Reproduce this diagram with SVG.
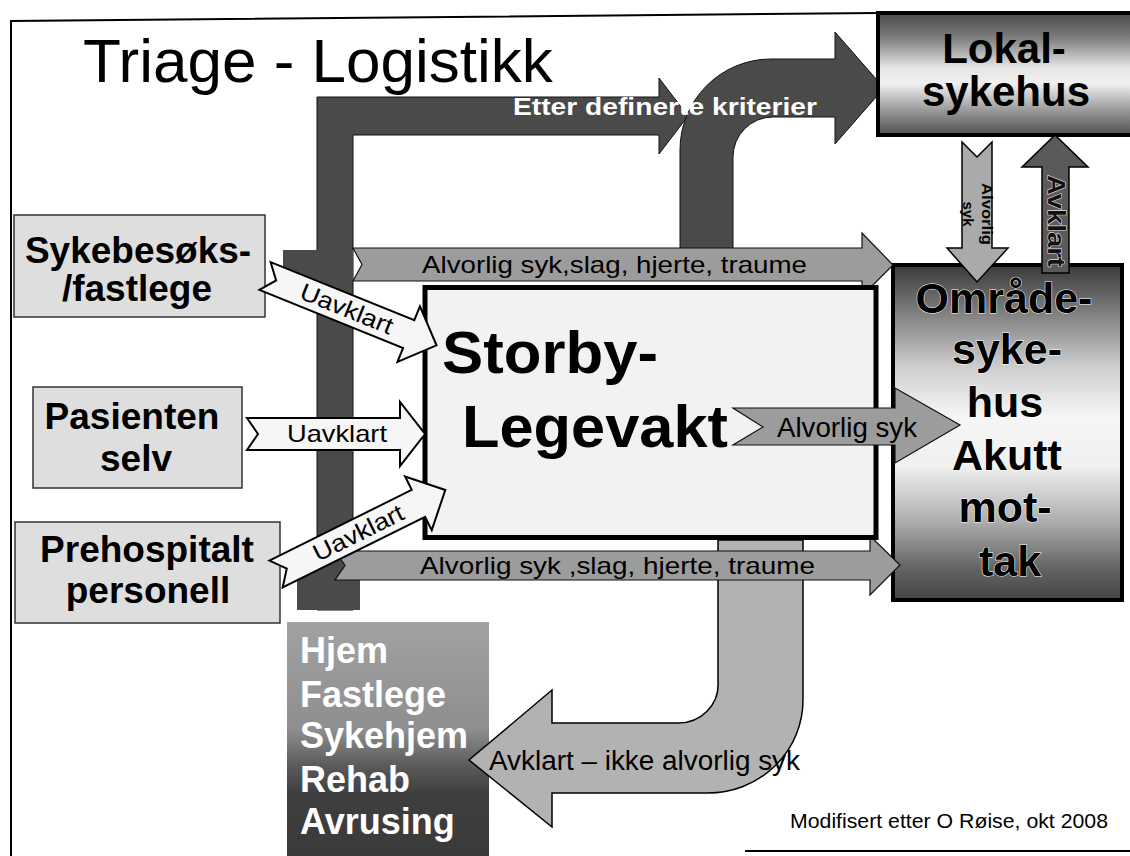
<svg xmlns="http://www.w3.org/2000/svg" width="1130" height="856" viewBox="0 0 1130 856">
<defs>
<style>
.b{font-family:"Liberation Sans",Arial,sans-serif;font-weight:bold}
.r{font-family:"Liberation Sans",Arial,sans-serif}
.box{fill:#dedede;stroke:#333;stroke-width:1.5}
.gray{fill:#9c9c9c;stroke:#111;stroke-width:1.2}
.dark{fill:#4a4a4a;stroke:#111;stroke-width:1}
.white{fill:#f6f6f6;stroke:#000;stroke-width:2}
</style>
<linearGradient id="lokalG" x1="0" y1="0" x2="0" y2="1">
<stop offset="0" stop-color="#4a4a4a"/><stop offset="0.2" stop-color="#7c7c7c"/><stop offset="0.45" stop-color="#e6e6e6"/><stop offset="0.58" stop-color="#f0f0f0"/><stop offset="0.78" stop-color="#a0a0a0"/><stop offset="1" stop-color="#505050"/>
</linearGradient>
<linearGradient id="omrG" x1="0" y1="0" x2="0" y2="1">
<stop offset="0" stop-color="#3a3a3a"/><stop offset="0.1" stop-color="#6a6a6a"/><stop offset="0.3" stop-color="#cccccc"/><stop offset="0.45" stop-color="#f6f6f6"/><stop offset="0.6" stop-color="#f0f0f0"/><stop offset="0.76" stop-color="#b0b0b0"/><stop offset="0.9" stop-color="#666666"/><stop offset="1" stop-color="#444444"/>
</linearGradient>
<linearGradient id="hjemG" x1="0" y1="0" x2="0" y2="1">
<stop offset="0" stop-color="#a2a2a2"/><stop offset="0.45" stop-color="#8e8e8e"/><stop offset="0.6" stop-color="#5a5a5a"/><stop offset="0.72" stop-color="#3e3e3e"/><stop offset="1" stop-color="#3a3a3a"/>
</linearGradient>
</defs>
<rect width="1130" height="856" fill="#ffffff"/>
<g id="frame" fill="none" stroke="#000" stroke-width="2">
<polyline points="11,856 11,21 878,13"/>
<line x1="745" y1="851" x2="1130" y2="851"/>
</g>
<g id="title"><text class="r" x="83" y="82" font-size="62">Triage - Logistikk</text></g>

<g id="connectors">
<g id="etter-arrow">
<path class="dark" d="M317,97 L659,97 L659,78 L688,116 L659,154 L659,135 L353,135 L353,610 L317,610 Z"/>
<rect x="283" y="250" width="70" height="33" fill="#4a4a4a"/>
<rect x="297" y="550" width="63" height="60" fill="#4a4a4a"/>
</g>
<path id="curved-arrow" class="dark" d="M680,255 L680,150 A91,91 0 0 1 771,59 L835,59 L835,32 L884,88 L835,144 L835,117 L773,117 A40,40 0 0 0 733,157 L733,255 Z"/>
<text class="b" x="513" y="115" font-size="24" fill="#ffffff" textLength="304" lengthAdjust="spacingAndGlyphs">Etter definerte kriterier</text>
</g>

<g id="lokal">
<rect x="878" y="13" width="262" height="122" fill="url(#lokalG)" stroke="#000" stroke-width="4"/>
<text class="b" x="1004" y="63" font-size="42" text-anchor="middle">Lokal-</text>
<text class="b" x="1006" y="106" font-size="42" text-anchor="middle">sykehus</text>
</g>

<g id="omrade">
<rect x="893" y="265" width="229" height="335" fill="url(#omrG)" stroke="#000" stroke-width="4"/>
<g class="b" font-size="43" text-anchor="middle" stroke="#ffffff" stroke-width="1" paint-order="stroke">
<text x="1004" y="313">Område-</text>
<text x="1007" y="364">syke-</text>
<text x="1005" y="417">hus</text>
<text x="1007" y="470">Akutt</text>
<text x="1005" y="522">mot-</text>
<text x="1010" y="576">tak</text>
</g>
</g>

<g id="vertical-arrows">
<path d="M962,142 L977,157 L992,142 L992,248 L1008,248 L977,282 L947,248 L962,248 Z" fill="#aaaaaa" stroke="#000" stroke-width="1.5"/>
<g transform="translate(977,214) rotate(90)" class="b" font-size="15" text-anchor="middle">
<text x="0" y="-5" textLength="62" lengthAdjust="spacingAndGlyphs">Alvorlig</text>
<text x="0" y="14">syk</text>
</g>
<path d="M1042,273 L1042,167 L1022,167 L1055,135 L1088,167 L1069,167 L1069,273 Z" fill="#5a5a5a" stroke="#000" stroke-width="1.5"/>
<text class="b" transform="translate(1056,221) rotate(90)" x="0" y="8" font-size="24" text-anchor="middle" textLength="92" lengthAdjust="spacingAndGlyphs" fill="#111" stroke="#dddddd" stroke-width="1.2" paint-order="stroke">Avklart</text>
</g>

<g id="alvorlig-top">
<path class="gray" d="M353,248 L862,248 L862,233 L893,265 L862,296 L862,281 L353,281 L362,264.5 Z"/>
<text class="r" x="422" y="273" font-size="24" textLength="385" lengthAdjust="spacingAndGlyphs">Alvorlig syk,slag, hjerte, traume</text>
</g>

<g id="hjem">
<rect x="287" y="622" width="202" height="240" fill="url(#hjemG)"/>
<g class="b" font-size="36" fill="#ffffff">
<text x="300" y="663">Hjem</text>
<text x="300" y="707">Fastlege</text>
<text x="300" y="748">Sykehjem</text>
<text x="300" y="792">Rehab</text>
<text x="300" y="834">Avrusing</text>
</g>
</g>

<g id="uturn-arrow">
<path d="M718,540 L718,683 A40,38 0 0 1 678,723 L552,723 L552,690 L469,760 L552,827 L552,793 L708,793 A95,93 0 0 0 803,700 L803,540 Z" fill="#b2b2b2" stroke="#000" stroke-width="1.5"/>
<text class="r" x="489" y="770" font-size="27" textLength="311" lengthAdjust="spacingAndGlyphs">Avklart – ikke alvorlig syk</text>
</g>

<g id="alvorlig-bottom">
<path class="gray" d="M335,551 L870,551 L870,536 L900,565 L870,595 L870,580 L335,580 L345,565.5 Z"/>
<text class="r" x="420" y="574" font-size="24" textLength="395" lengthAdjust="spacingAndGlyphs">Alvorlig syk ,slag, hjerte, traume</text>
</g>

<g id="storby">
<rect x="425" y="287.5" width="451" height="250" fill="#f2f2f2" stroke="#000" stroke-width="5"/>
<text class="b" x="442" y="373" font-size="60" textLength="216" lengthAdjust="spacingAndGlyphs">Storby-</text>
<text class="b" x="462" y="447" font-size="60" textLength="266" lengthAdjust="spacingAndGlyphs">Legevakt</text>
</g>

<g id="alvorlig-mid">
<path class="gray" d="M733,408 L895,408 L895,388 L960,425 L895,463 L895,445 L733,445 L763,427 Z"/>
<text class="r" x="777" y="437" font-size="27" textLength="140" lengthAdjust="spacingAndGlyphs">Alvorlig syk</text>
</g>

<g id="sykebesoks">
<rect class="box" x="14" y="215" width="251" height="102"/>
<text class="b" x="138" y="263" font-size="37" text-anchor="middle">Sykebesøks-</text>
<text class="b" x="137" y="301" font-size="37" text-anchor="middle">/fastlege</text>
</g>
<g id="pasienten">
<rect class="box" x="33" y="387" width="209" height="101"/>
<text class="b" x="132" y="429" font-size="37" text-anchor="middle">Pasienten</text>
<text class="b" x="136" y="471" font-size="37" text-anchor="middle">selv</text>
</g>
<g id="prehospitalt">
<rect class="box" x="15" y="522" width="265" height="101"/>
<text class="b" x="147" y="562" font-size="37" text-anchor="middle">Prehospitalt</text>
<text class="b" x="148" y="603" font-size="37" text-anchor="middle">personell</text>
</g>

<g id="uavklart-arrows">
<g transform="translate(265,276) rotate(22)">
<path class="white" d="M0,-15 L155,-15 L155,-30 L185,0 L155,30 L155,15 L0,15 L12,0 Z"/>
<text class="r" x="88" y="8" font-size="24" text-anchor="middle" textLength="98" lengthAdjust="spacingAndGlyphs">Uavklart</text>
</g>
<g>
<path class="white" d="M247,418 L400,418 L400,402 L425,434 L400,466 L400,450 L247,450 L258,434 Z"/>
<text class="r" x="287" y="442" font-size="24" textLength="100" lengthAdjust="spacingAndGlyphs">Uavklart</text>
</g>
<g transform="translate(276,574) rotate(-26.4)">
<path class="white" d="M0,-15 L159,-15 L159,-30 L189,0 L159,30 L159,15 L0,15 L12,0 Z"/>
<text class="r" x="92" y="8" font-size="24" text-anchor="middle" textLength="98" lengthAdjust="spacingAndGlyphs">Uavklart</text>
</g>
</g>

<g id="credit"><text class="r" x="790" y="828" font-size="21" textLength="318" lengthAdjust="spacingAndGlyphs">Modifisert etter O Røise, okt 2008</text></g>
</svg>
